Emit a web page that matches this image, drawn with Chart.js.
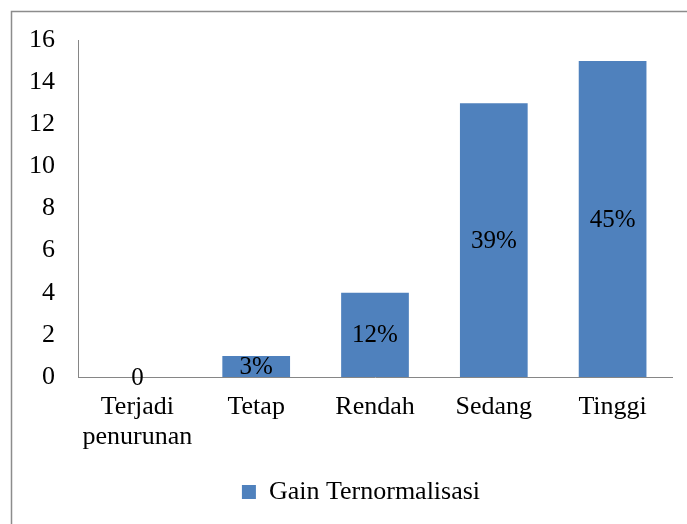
<!DOCTYPE html>
<html>
<head>
<meta charset="utf-8">
<script src="https://cdn.jsdelivr.net/npm/chart.js@4.4.0/dist/chart.umd.min.js"></script>
<style>
    html, body { margin: 0; padding: 0; background: #fff; }
    #wrap { width: 687px; height: 524px; }
</style>
</head>
<body>
<div id="wrap"><canvas id="chart" width="687" height="524"></canvas></div>
<script>
// Values
const categories = [['Terjadi', 'penurunan'], 'Tetap', 'Rendah', 'Sedang', 'Tinggi'];
const counts = [0, 1, 4, 13, 15];
const barLabels = ['0', '3%', '12%', '39%', '45%'];
const seriesName = 'Gain Ternormalisasi';
const yTicks = [0, 2, 4, 6, 8, 10, 12, 14, 16];

const SERIF = '"Liberation Serif", "Times New Roman", serif';
const BAR_BLUE = '#4f81bd';

// outer frame of the chart object
const framePlugin = {
    id: 'frame',
    beforeDraw(chart) {
        const ctx = chart.ctx;
        ctx.save();
        ctx.fillStyle = '#fff';
        ctx.fillRect(0, 0, chart.width, chart.height);
        ctx.strokeStyle = '#8c8c8c';
        ctx.lineWidth = 1.5;
        ctx.strokeRect(11.5, 11.5, chart.width + 20, chart.height + 20);
        ctx.restore();
    },
    // nudge the legend a bit left, like in the original
    afterLayout(chart) {
        if (chart.legend) {
            chart.legend.left -= 14;
            chart.legend.right -= 14;
        }
    }
};

// percentage labels in the middle of each bar
const centerLabels = {
    id: 'centerLabels',
    afterDatasetsDraw(chart) {
        const ctx = chart.ctx;
        const meta = chart.getDatasetMeta(0);
        ctx.save();
        ctx.font = '25px ' + SERIF;
        ctx.fillStyle = '#000';
        ctx.textAlign = 'center';
        ctx.textBaseline = 'middle';
        meta.data.forEach((bar, i) => {
            const p = bar.getCenterPoint();
            ctx.fillText(barLabels[i], p.x, p.y + 1);
        });
        ctx.restore();
    }
};

new Chart(document.getElementById('chart'), {
    type: 'bar',
    data: {
        labels: categories,
        datasets: [{
            label: seriesName,
            data: counts,
            backgroundColor: BAR_BLUE,
            borderWidth: 0,
            categoryPercentage: 1,
            barPercentage: 0.57
        }]
    },
    options: {
        responsive: false,
        animation: false,
        layout: { padding: { left: 0, top: 40, right: 15, bottom: 9 } },
        plugins: {
            tooltip: { enabled: false },
            legend: {
                position: 'bottom',
                fullSize: false,
                labels: {
                    color: '#000',
                    font: { family: SERIF, size: 26 },
                    boxWidth: 14,
                    boxHeight: 14,
                    padding: 10
                }
            }
        },
        scales: {
            y: {
                min: 0,
                max: 16,
                afterFit(scale) { scale.width = 78; },
                afterBuildTicks(scale) { scale.ticks = yTicks.map(v => ({ value: v })); },
                grid: { display: false, drawTicks: false },
                border: { display: true, color: '#868686', width: 1 },
                ticks: {
                    color: '#000',
                    padding: 23,
                    font: { family: SERIF, size: 26 }
                }
            },
            x: {
                afterFit(scale) { scale.height = 92; },
                grid: { display: false, drawTicks: false },
                border: { display: true, color: '#868686', width: 1 },
                ticks: {
                    color: '#000',
                    padding: 16,
                    maxRotation: 0,
                    font: { family: SERIF, size: 26, lineHeight: 1.12 }
                }
            }
        }
    },
    plugins: [framePlugin, centerLabels]
});
</script>
</body>
</html>
